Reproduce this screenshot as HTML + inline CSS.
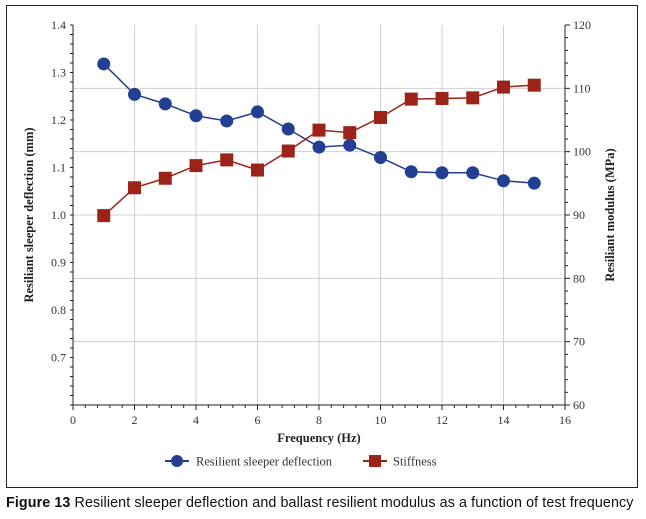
<!DOCTYPE html>
<html><head><meta charset="utf-8"><style>
body{margin:0;background:#fff;width:646px;height:519px;overflow:hidden;font-family:"Liberation Serif",serif;}
#frame{position:absolute;left:6px;top:5px;width:632px;height:483px;border:1.3px solid #222;box-sizing:border-box;}
#cap{position:absolute;left:6px;top:495px;font-family:"Liberation Sans",sans-serif;font-size:14.3px;color:#111;white-space:nowrap;letter-spacing:0.1px;}
</style></head><body>
<div id="frame"></div>
<svg id="chart" width="646" height="519" style="position:absolute;left:0;top:0" font-family="Liberation Serif, serif"></svg>
<div id="cap"><b>Figure 13</b> Resilient sleeper deflection and ballast resilient modulus as a function of test frequency</div>
<script>
const freq=[1,2,3,4,5,6,7,8,9,10,11,12,13,14,15];
const deflection=[1.318,1.254,1.234,1.209,1.198,1.217,1.181,1.143,1.147,1.121,1.091,1.089,1.089,1.072,1.067];
const stiffness=[89.9,94.3,95.8,97.8,98.7,97.1,100.1,103.4,103.0,105.4,108.3,108.4,108.5,110.2,110.5];
const xTicks=[0,2,4,6,8,10,12,14,16];
const yLeftTicks=[0.7,0.8,0.9,1.0,1.1,1.2,1.3,1.4];
const yRightTicks=[60,70,80,90,100,110,120];
const svg=document.getElementById('chart');const NS='http://www.w3.org/2000/svg';
const L=73,R=565,T=25,B=405;
const X=v=>L+(v-0)/16*(R-L);
const YL=v=>B-(v-0.6)/0.8*(B-T);
const YR=v=>B-(v-60)/60*(B-T);
function mk(t,a,p){const e=document.createElementNS(NS,t);for(const k in a)e.setAttribute(k,a[k]);(p||svg).appendChild(e);return e;}
for(const t of xTicks){if(t===0||t===16)continue;const g=mk('line',{x1:X(t),x2:X(t),y1:T,y2:B,stroke:'#d0d0d0','stroke-width':1});

}
for(const t of yRightTicks){if(t===60||t===120)continue;const g=mk('line',{x1:L,x2:R,y1:YR(t),y2:YR(t),stroke:'#d0d0d0','stroke-width':1});

}
mk('line',{x1:L,x2:L,y1:T,y2:B,stroke:'#222','stroke-width':1});
mk('line',{x1:R,x2:R,y1:T,y2:B,stroke:'#222','stroke-width':1});
mk('line',{x1:L,x2:R,y1:B,y2:B,stroke:'#222','stroke-width':1});
for(let v=0;v<=16.001;v+=0.4){mk('line',{x1:X(v),x2:X(v),y1:B,y2:B+(Math.abs(v/2-Math.round(v/2))<0.01?5:3),stroke:'#222'});}
for(let v=0.6;v<=1.4001;v+=0.02){mk('line',{x1:L-3,x2:L,y1:YL(v),y2:YL(v),stroke:'#222'});}
for(let v=60;v<=120.001;v+=2){mk('line',{x1:R,x2:R+(v%10===0?5:3),y1:YR(v),y2:YR(v),stroke:'#222'});}
for(const t of xTicks){const e=mk('text',{x:X(t),y:B+19,'text-anchor':'middle','font-size':12,fill:'#333'});e.textContent=t;

}
for(const t of yLeftTicks){const e=mk('text',{x:L-7,y:YL(t)+4,'text-anchor':'end','font-size':12,fill:'#333'});e.textContent=t.toFixed(1);

}
for(const t of yRightTicks){const e=mk('text',{x:R+8,y:YR(t)+4,'text-anchor':'start','font-size':12,fill:'#333'});e.textContent=t;

}
let e=mk('text',{x:319,y:442,'text-anchor':'middle','font-size':12.5,'font-weight':'bold',fill:'#222'});e.textContent='Frequency (Hz)';

e=mk('text',{x:0,y:0,'text-anchor':'middle','font-size':12.5,'font-weight':'bold',fill:'#222',transform:'translate(33,215) rotate(-90)'});e.textContent='Resiliant sleeper deflection (mm)';

e=mk('text',{x:0,y:0,'text-anchor':'middle','font-size':12.5,'font-weight':'bold',fill:'#222',transform:'translate(614,215) rotate(-90)'});e.textContent='Resiliant modulus (MPa)';

const blue='#233f94',red='#9c2318';
let p=mk('polyline',{points:freq.map((f,i)=>X(f)+','+YL(deflection[i])).join(' '),fill:'none',stroke:blue,'stroke-width':1.5});

p=mk('polyline',{points:freq.map((f,i)=>X(f)+','+YR(stiffness[i])).join(' '),fill:'none',stroke:red,'stroke-width':1.5});

freq.forEach((f,i)=>{const c=mk('circle',{cx:X(f),cy:YL(deflection[i]),r:6.5,fill:blue});

});
freq.forEach((f,i)=>{const s=mk('rect',{x:X(f)-6.5,y:YR(stiffness[i])-6.5,width:13,height:13,fill:red});

});
let g=mk('g',{});
mk('line',{x1:165,x2:189,y1:461,y2:461,stroke:blue,'stroke-width':2},g);mk('circle',{cx:177,cy:461,r:6,fill:blue},g);
e=mk('text',{x:196,y:465.5,'font-size':12.5,fill:'#333'},g);e.textContent='Resilient sleeper deflection';
g=mk('g',{});
mk('line',{x1:363,x2:387,y1:461,y2:461,stroke:red,'stroke-width':2},g);mk('rect',{x:369,y:455,width:12,height:12,fill:red},g);
e=mk('text',{x:393,y:465.5,'font-size':12.5,fill:'#333'},g);e.textContent='Stiffness';
</script>
</body></html>
